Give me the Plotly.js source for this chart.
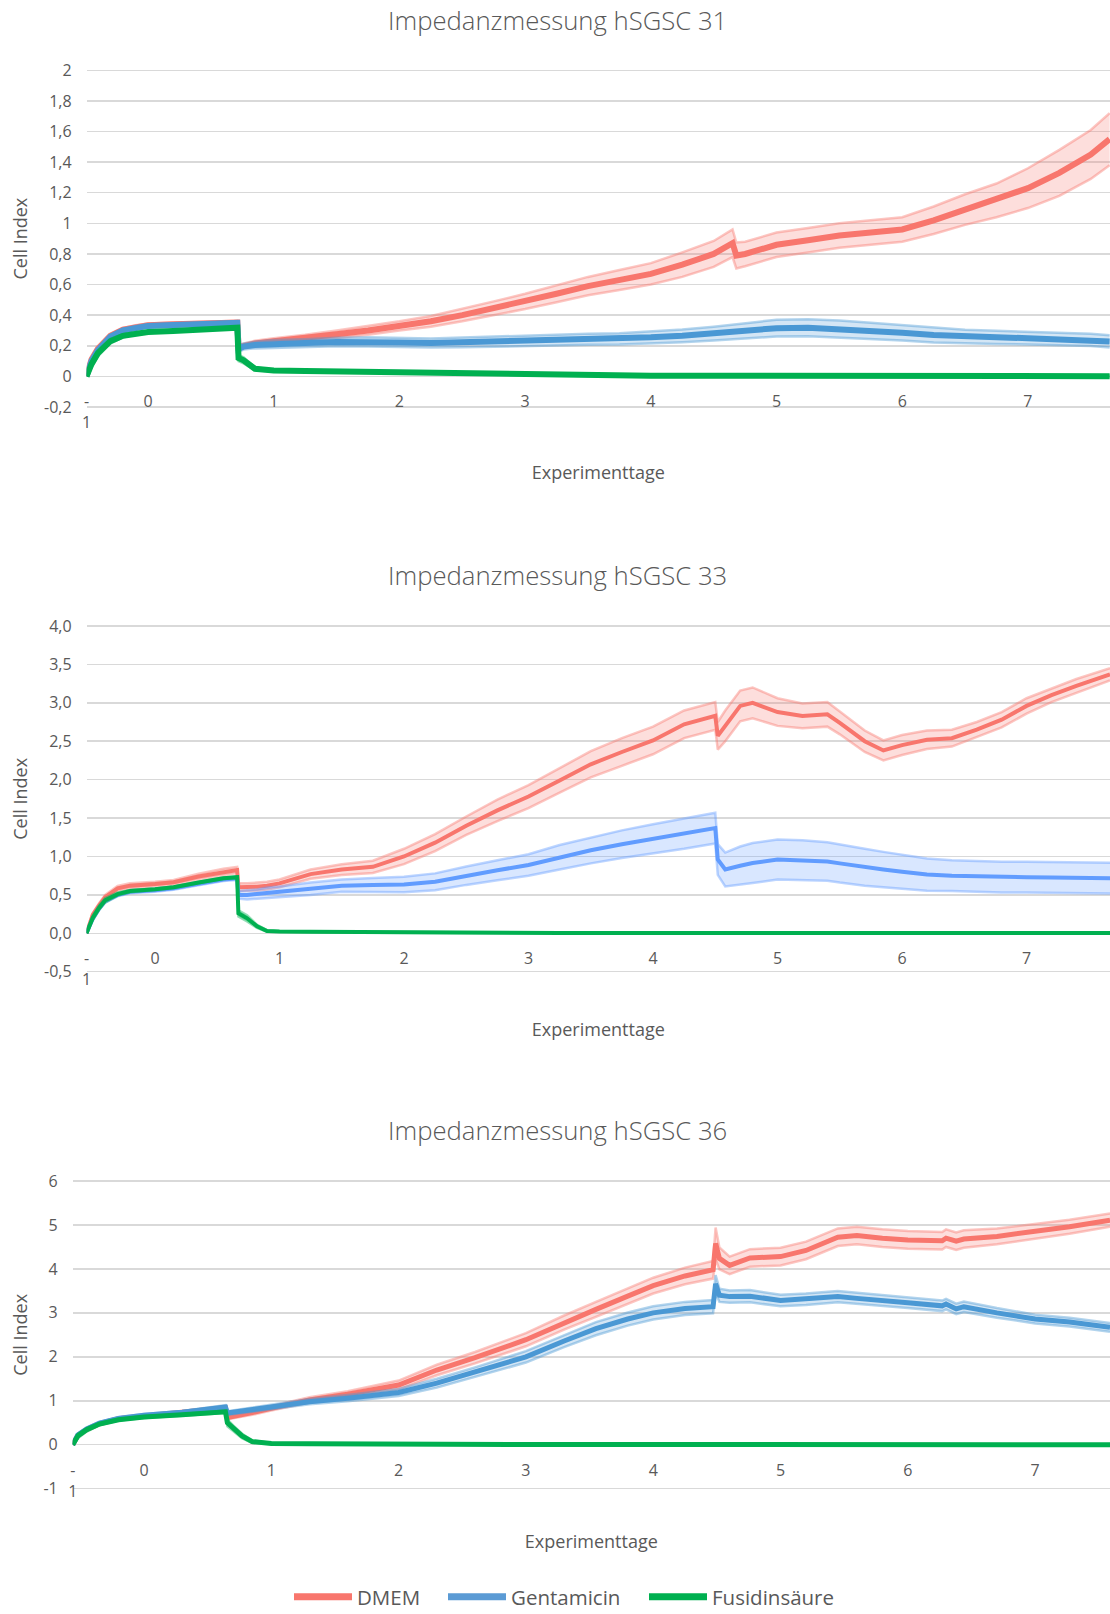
<!DOCTYPE html>
<html><head><meta charset="utf-8">
<script src="https://cdn.plot.ly/plotly-3.0.1.min.js"></script>
<style>html,body{margin:0;padding:0;background:#fff;overflow:hidden}#chart{width:1110px;height:1614px}</style>
</head><body><div id="chart"></div>
<script>
// ---------- data ----------
const seriesNames = ['DMEM', 'Gentamicin', 'Fusidinsäure'];
const chartTitles = ['Impedanzmessung hSGSC 31', 'Impedanzmessung hSGSC 33', 'Impedanzmessung hSGSC 36'];
const xTitle = 'Experimenttage';
const yTitle = 'Cell Index';
const xTickLabels = ['-1', '0', '1', '2', '3', '4', '5', '6', '7'];

// hSGSC 31
const c1Days = [-0.49,-0.45,-0.4,-0.3,-0.2,-0.1,0,0.2,0.4,0.6,0.71,0.72,0.76,0.85,1.0,1.25,1.5,1.75,2.0,2.25,2.5,2.75,3.0,3.25,3.5,3.75,4.0,4.25,4.5,4.65,4.68,4.75,5.0,5.25,5.5,5.75,6.0,6.25,6.5,6.75,7.0,7.25,7.5,7.65];
const c1Dmem = [0,0.11,0.18,0.265,0.305,0.325,0.335,0.34,0.342,0.348,0.352,0.19,0.2,0.215,0.23,0.25,0.275,0.3,0.33,0.36,0.4,0.445,0.49,0.54,0.59,0.63,0.67,0.73,0.8,0.87,0.79,0.8,0.86,0.89,0.92,0.94,0.96,1.02,1.09,1.15,1.23,1.33,1.45,1.55];
const c1DmemSd = [0,0.01,0.01,0.01,0.01,0.01,0.01,0.01,0.01,0.012,0.012,0.015,0.015,0.018,0.02,0.022,0.025,0.028,0.03,0.035,0.04,0.045,0.05,0.055,0.06,0.065,0.07,0.08,0.085,0.09,0.085,0.08,0.08,0.08,0.08,0.08,0.08,0.09,0.1,0.11,0.13,0.15,0.16,0.17];
const c1Genta = [0,0.1,0.17,0.26,0.3,0.32,0.33,0.335,0.337,0.345,0.35,0.18,0.195,0.205,0.212,0.218,0.225,0.226,0.222,0.218,0.222,0.228,0.233,0.237,0.242,0.245,0.255,0.265,0.28,0.29,0.292,0.3,0.315,0.318,0.31,0.298,0.285,0.27,0.26,0.255,0.25,0.245,0.238,0.228];
const c1GentaSd = [0,0.01,0.01,0.01,0.01,0.01,0.01,0.01,0.01,0.012,0.012,0.02,0.02,0.022,0.025,0.025,0.028,0.03,0.03,0.03,0.032,0.033,0.035,0.035,0.036,0.037,0.04,0.042,0.045,0.048,0.048,0.05,0.055,0.055,0.055,0.052,0.05,0.048,0.045,0.043,0.042,0.04,0.04,0.04];
const c1Fusi = [0,0.08,0.15,0.23,0.265,0.28,0.29,0.297,0.305,0.312,0.318,0.12,0.105,0.05,0.038,0.035,0.032,0.028,0.025,0.02,0.016,0.013,0.011,0.01,0.008,0.006,0.005,0.005,0.004,0.004,0.004,0.004,0.004,0.004,0.004,0.003,0.003,0.003,0.003,0.002,0.002,0.002,0.001,0.001];
const c1FusiSd = [0,0.02,0.02,0.015,0.01,0.008,0.006,0.005,0.005,0.005,0.005,0.02,0.02,0.01,0.006,0.005,0.005,0.005,0.005,0.005,0.005,0.005,0.005,0.005,0.005,0.005,0.005,0.005,0.005,0.005,0.005,0.005,0.005,0.005,0.005,0.005,0.005,0.005,0.005,0.005,0.005,0.005,0.005,0.005];

// hSGSC 33
const c2Days = [-0.55,-0.5,-0.45,-0.4,-0.3,-0.2,0,0.15,0.35,0.55,0.66,0.67,0.74,0.82,0.9,1.0,1.25,1.5,1.75,2.0,2.25,2.5,2.75,3.0,3.25,3.5,3.75,4.0,4.25,4.5,4.52,4.58,4.7,4.8,5.0,5.2,5.4,5.5,5.7,5.85,6.0,6.2,6.4,6.6,6.8,7.0,7.2,7.4,7.67];
const c2Dmem = [0,0.24,0.36,0.47,0.585,0.62,0.642,0.665,0.74,0.8,0.824,0.6,0.6,0.607,0.62,0.65,0.77,0.83,0.865,1.0,1.18,1.4,1.6,1.78,1.99,2.2,2.36,2.51,2.72,2.83,2.57,2.7,2.96,3.0,2.88,2.83,2.85,2.74,2.5,2.38,2.45,2.52,2.54,2.65,2.78,2.96,3.1,3.22,3.37];
const c2DmemSd = [0,0.02,0.03,0.03,0.03,0.03,0.03,0.03,0.035,0.04,0.04,0.05,0.05,0.05,0.05,0.05,0.06,0.07,0.08,0.1,0.11,0.12,0.14,0.15,0.16,0.17,0.18,0.18,0.18,0.18,0.18,0.2,0.2,0.2,0.18,0.16,0.16,0.15,0.14,0.13,0.13,0.12,0.11,0.1,0.1,0.1,0.09,0.09,0.08];
const c2Genta = [0,0.19,0.32,0.42,0.5,0.54,0.56,0.585,0.645,0.7,0.715,0.5,0.5,0.51,0.525,0.54,0.58,0.62,0.63,0.635,0.67,0.75,0.82,0.89,0.99,1.08,1.16,1.23,1.3,1.37,0.96,0.83,0.88,0.915,0.96,0.95,0.935,0.91,0.86,0.83,0.8,0.765,0.75,0.74,0.73,0.73,0.725,0.725,0.717];
const c2GentaSd = [0,0.02,0.02,0.02,0.02,0.02,0.02,0.02,0.02,0.02,0.02,0.05,0.06,0.06,0.07,0.07,0.08,0.08,0.09,0.1,0.11,0.12,0.13,0.14,0.16,0.17,0.18,0.19,0.2,0.2,0.2,0.22,0.25,0.26,0.26,0.26,0.25,0.25,0.24,0.23,0.22,0.21,0.2,0.2,0.2,0.2,0.2,0.2,0.2];
const c2Fusi = [0,0.2,0.33,0.43,0.51,0.55,0.573,0.6,0.66,0.716,0.73,0.26,0.195,0.09,0.03,0.022,0.019,0.016,0.012,0.009,0.007,0.006,0.006,0.005,0.005,0.005,0.005,0.004,0.004,0.004,0.004,0.004,0.004,0.004,0.004,0.004,0.004,0.004,0.004,0.004,0.003,0.003,0.003,0.003,0.003,0.003,0.003,0.003,0.003];
const c2FusiSd = [0,0.03,0.03,0.03,0.02,0.015,0.01,0.01,0.01,0.01,0.01,0.04,0.04,0.02,0.01,0.005,0.005,0.005,0.005,0.005,0.005,0.005,0.005,0.005,0.005,0.005,0.005,0.005,0.005,0.005,0.005,0.005,0.005,0.005,0.005,0.005,0.005,0.005,0.005,0.005,0.005,0.005,0.005,0.005,0.005,0.005,0.005,0.005,0.005];

// hSGSC 36
const c3Days = [-0.56,-0.52,-0.45,-0.35,-0.2,0,0.3,0.64,0.655,0.7,0.77,0.85,1.0,1.3,1.6,2.0,2.3,2.6,3.0,3.3,3.55,3.8,4.0,4.25,4.47,4.49,4.52,4.6,4.76,5.0,5.2,5.45,5.6,5.8,6.0,6.27,6.3,6.38,6.44,6.7,7.0,7.27,7.588];
const c3Dmem = [0,0.21,0.35,0.48,0.59,0.65,0.72,0.84,0.62,0.64,0.68,0.73,0.83,1.02,1.15,1.36,1.7,1.98,2.39,2.78,3.08,3.38,3.62,3.84,3.98,4.58,4.24,4.08,4.25,4.28,4.42,4.72,4.76,4.7,4.66,4.64,4.7,4.63,4.68,4.74,4.85,4.96,5.11];
const c3DmemSd = [0,0.03,0.03,0.03,0.03,0.03,0.03,0.04,0.04,0.04,0.04,0.05,0.05,0.06,0.07,0.1,0.12,0.13,0.15,0.16,0.17,0.18,0.18,0.19,0.2,0.36,0.25,0.2,0.2,0.2,0.2,0.2,0.2,0.2,0.2,0.2,0.2,0.2,0.2,0.18,0.17,0.16,0.15];
const c3Genta = [0,0.22,0.36,0.49,0.6,0.67,0.74,0.86,0.72,0.74,0.77,0.8,0.86,0.98,1.06,1.19,1.4,1.65,2.0,2.36,2.64,2.86,3.0,3.1,3.14,3.66,3.4,3.37,3.38,3.28,3.31,3.37,3.33,3.27,3.23,3.16,3.2,3.09,3.14,3.0,2.86,2.79,2.67];
const c3GentaSd = [0,0.03,0.03,0.03,0.03,0.03,0.03,0.04,0.04,0.04,0.04,0.05,0.05,0.06,0.07,0.08,0.1,0.11,0.13,0.14,0.15,0.15,0.15,0.15,0.15,0.2,0.15,0.14,0.14,0.13,0.13,0.13,0.13,0.12,0.12,0.12,0.12,0.12,0.12,0.11,0.1,0.1,0.1];
const c3Fusi = [0,0.2,0.34,0.47,0.57,0.63,0.68,0.75,0.5,0.38,0.2,0.07,0.03,0.023,0.015,0.008,0.006,0.005,0.004,0.004,0.004,0.003,0.003,0.003,0.003,0.003,0.003,0.003,0.003,0.003,0.003,0.003,0.003,0.003,0.003,0.003,0.003,0.003,0.003,0.003,0.002,0.002,0.002];
const c3FusiSd = [0,0.05,0.04,0.03,0.02,0.02,0.02,0.03,0.08,0.06,0.05,0.03,0.01,0.005,0.005,0.005,0.005,0.005,0.005,0.005,0.005,0.005,0.005,0.005,0.005,0.005,0.005,0.005,0.005,0.005,0.005,0.005,0.005,0.005,0.005,0.005,0.005,0.005,0.005,0.005,0.005,0.005,0.005];

// y-axis ticks
const c1YTicks = [-0.2,0,0.2,0.4,0.6,0.8,1,1.2,1.4,1.6,1.8,2];
const c1YLabels = ['-0,2','0','0,2','0,4','0,6','0,8','1','1,2','1,4','1,6','1,8','2'];
const c2YTicks = [-0.5,0,0.5,1,1.5,2,2.5,3,3.5,4];
const c2YLabels = ['-0,5','0,0','0,5','1,0','1,5','2,0','2,5','3,0','3,5','4,0'];
const c3YTicks = [-1,0,1,2,3,4,5,6];
const c3YLabels = ['-1','0','1','2','3','4','5','6'];

// ---------- layout geometry (pixels in the 1110x1614 page) ----------
const W = 1110, H = 1614;
const GRAY = '#595959', FONT = 'Open Sans, Noto Sans, sans-serif';
const charts = [
  {days:c1Days, dmem:c1Dmem, dmemSd:c1DmemSd, genta:c1Genta, gentaSd:c1GentaSd, fusi:c1Fusi, fusiSd:c1FusiSd,
   left:86.6, top:70.3, bottom:407.0, yr:[-0.2,2], xr:[-0.489,7.653], yt:c1YTicks, yl:c1YLabels,
   blue:[74,152,212], lw:6, titleY:20.6},
  {days:c2Days, dmem:c2Dmem, dmemSd:c2DmemSd, genta:c2Genta, gentaSd:c2GentaSd, fusi:c2Fusi, fusiSd:c2FusiSd,
   left:86.6, top:626.0, bottom:971.7, yr:[-0.5,4], xr:[-0.549,7.67], yt:c2YTicks, yl:c2YLabels,
   blue:[97,156,255], lw:4, titleY:575.6},
  {days:c3Days, dmem:c3Dmem, dmemSd:c3DmemSd, genta:c3Genta, gentaSd:c3GentaSd, fusi:c3Fusi, fusiSd:c3FusiSd,
   left:72.7, top:1181.0, bottom:1488.7, yr:[-1,6], xr:[-0.56,7.588], yt:c3YTicks, yl:c3YLabels,
   blue:[74,152,212], lw:5, titleY:1130.6}
];
const RED = [248,118,109], GREEN = [0,176,80], LEGEND_BLUE = [91,155,213];
const rgba = (c,a) => `rgba(${c[0]},${c[1]},${c[2]},${a})`;

const traces = [];
const legendLeft = [289, 443, 644];   // px where each legend entry starts
const legendCfg = (px) => ({orientation:'h', x:px/W, xanchor:'left', y:1-1597/H, yanchor:'middle',
  font:{size:20.5, color:GRAY, family:FONT}, itemwidth:58, bgcolor:'rgba(0,0,0,0)', borderwidth:0});
const layout = {
  width: W, height: H, margin:{l:0,r:0,t:0,b:0, autoexpand:false}, paper_bgcolor:'#fff', plot_bgcolor:'#fff',
  separators: ', ', font:{family:FONT, color:GRAY},
  showlegend: true,
  legend: legendCfg(legendLeft[0]),
  legend2: legendCfg(legendLeft[1]),
  legend3: legendCfg(legendLeft[2]),
  annotations: []
};

function addSeries(xa, ya, days, mean, sd, col, width, idx) {
  const lower = mean.map((m,i) => m - sd[i]);
  const upper = mean.map((m,i) => m + sd[i]);
  traces.push({x:days, y:lower, xaxis:xa, yaxis:ya, mode:'lines', line:{color:rgba(col,0.42), width:2.5},
               showlegend:false, hoverinfo:'skip'});
  traces.push({x:days, y:upper, xaxis:xa, yaxis:ya, mode:'lines', line:{color:rgba(col,0.42), width:2.5},
               fill:'tonexty', fillcolor:rgba(col,0.24), showlegend:false, hoverinfo:'skip'});
  traces.push({x:days, y:mean, xaxis:xa, yaxis:ya, mode:'lines', name:seriesNames[idx],
               line:{color:rgba(col,1), width:width}, showlegend:false, legendgroup:seriesNames[idx]});
}

charts.forEach((c, k) => {
  const n = k === 0 ? '' : String(k+1);
  const xa = 'x'+n, ya = 'y'+n;
  // extend the plotting box 2 px each way so the end grid lines are not clipped
  const pad = 2, vpp = (c.yr[1]-c.yr[0])/(c.bottom-c.top);
  const d0 = 1 - (c.bottom+pad)/H, d1 = 1 - (c.top-pad)/H;
  const yRange = [c.yr[0]-pad*vpp, c.yr[1]+pad*vpp];
  const zeroPos = 1 - (c.bottom - (0 - c.yr[0])/vpp)/H;
  const tickVals = [c.xr[0]+0.0005, 0, 1, 2, 3, 4, 5, 6, 7];
  const tickText = xTickLabels.map(t => t === '-1' ? '-<br>1' : t);

  addSeries(xa, ya, c.days, c.dmem, c.dmemSd, RED, c.lw, 0);
  addSeries(xa, ya, c.days, c.genta, c.gentaSd, c.blue, c.lw, 1);
  addSeries(xa, ya, c.days, c.fusi, c.fusiSd, GREEN, c.lw, 2);

  layout['xaxis'+n] = {
    domain:[c.left/W, 1], range:c.xr, anchor:'free', position:zeroPos,
    showgrid:false, zeroline:false, showline:false, ticks:'',
    tickmode:'array', tickvals:tickVals, ticktext:tickText,
    tickfont:{size:16, color:GRAY, family:FONT}, ticklabelstandoff:14,
    title:{text:xTitle, font:{size:18, color:GRAY, family:FONT}, standoff:34}
  };
  layout['yaxis'+n] = {
    domain:[d0, d1], range:yRange, anchor:xa,
    showgrid:true, gridcolor:'#D9D9D9', gridwidth:1.5, zeroline:false, showline:false, ticks:'',
    tickmode:'array', tickvals:c.yt, ticktext:c.yl,
    tickfont:{size:16, color:GRAY, family:FONT}, ticklabelstandoff:14,
    title:{text:yTitle, font:{size:18, color:GRAY, family:FONT}, standoff:11}
  };
  layout.annotations.push({text:chartTitles[k], xref:'paper', yref:'paper', x:557/W, y:1 - c.titleY/H,
    xanchor:'center', yanchor:'middle', showarrow:false,
    font:{size:25.7, color:GRAY, family:FONT, weight:300}});
});

// legend entries: one per series (same colours as the first chart), each in its own legend box
const legendColors = [RED, LEGEND_BLUE, GREEN];
const legendIds = ['legend', 'legend2', 'legend3'];
seriesNames.forEach((nm, i) => {
  traces.push({x:[null], y:[null], xaxis:'x', yaxis:'y', mode:'lines', name:nm, legend:legendIds[i],
               legendgroup:nm, showlegend:true, line:{color:rgba(legendColors[i],1), width:7}, hoverinfo:'skip'});
});

Plotly.newPlot('chart', traces, layout, {staticPlot:true, displayModeBar:false});
</script></body></html>
